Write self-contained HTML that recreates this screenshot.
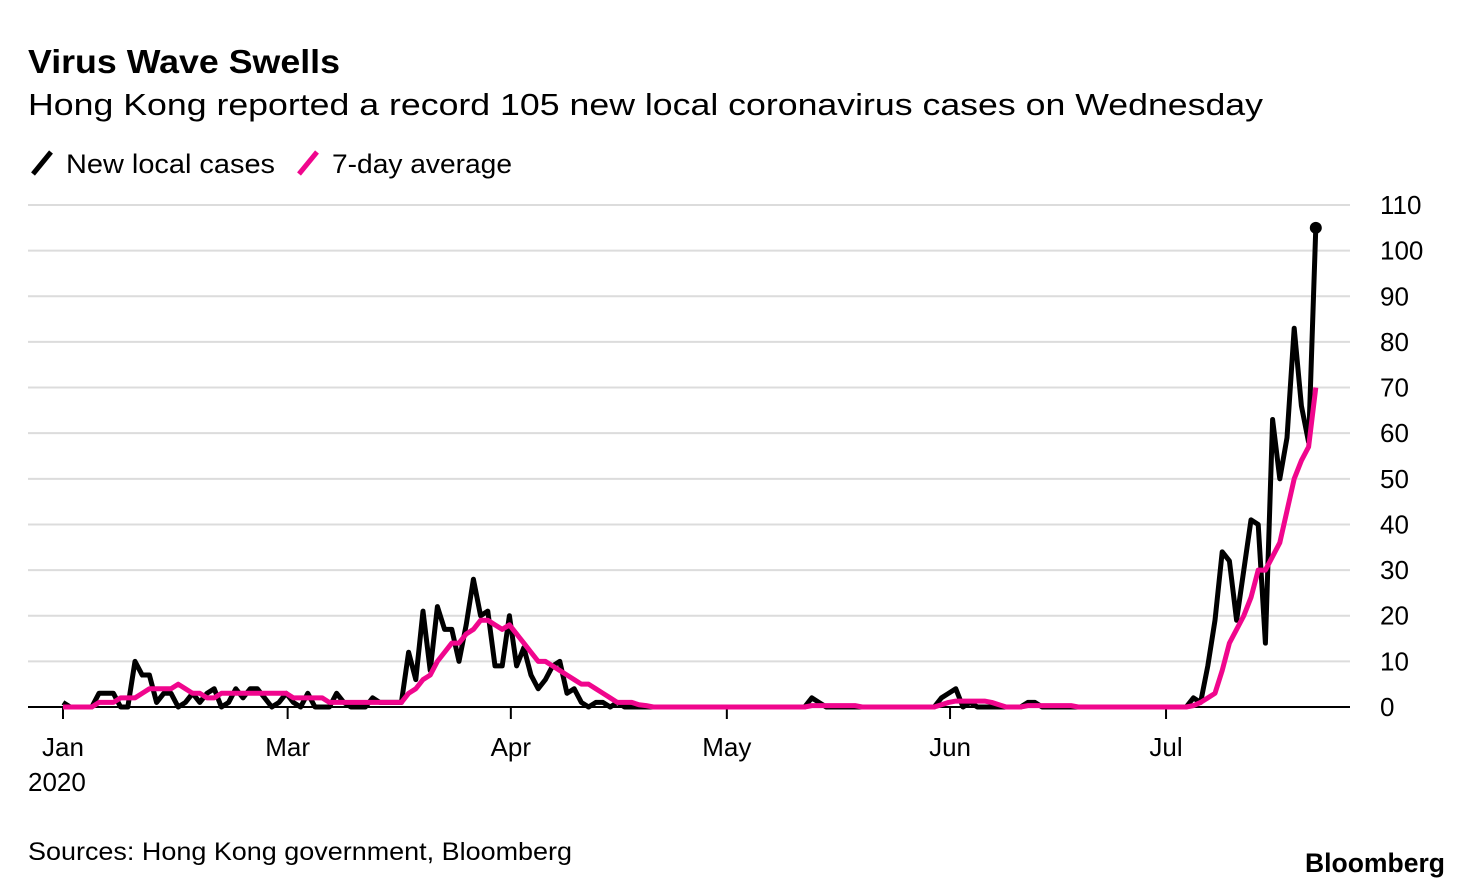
<!DOCTYPE html>
<html><head><meta charset="utf-8"><style>
body{margin:0;background:#fff;font-family:"Liberation Sans",sans-serif;}
svg{display:block}
</style></head><body>
<svg width="1473" height="890" xmlns="http://www.w3.org/2000/svg">
<text x="28" y="73" font-size="33" font-weight="bold" fill="#000" textLength="312" lengthAdjust="spacingAndGlyphs">Virus Wave Swells</text>
<text x="28" y="115" font-size="31" fill="#000" textLength="1235" lengthAdjust="spacingAndGlyphs">Hong Kong reported a record 105 new local coronavirus cases on Wednesday</text>
<g>
<line x1="33" y1="174" x2="51" y2="152" stroke="#000" stroke-width="5"/>
<text x="66" y="173" font-size="27" textLength="209" lengthAdjust="spacingAndGlyphs">New local cases</text>
<line x1="299" y1="174" x2="317" y2="152" stroke="#f0068d" stroke-width="5"/>
<text x="332" y="173" font-size="27" textLength="180" lengthAdjust="spacingAndGlyphs">7-day average</text>
</g>
<g id="grid"></g><g id="xaxis"></g><g id="series"></g>
<text x="28" y="860" font-size="25" textLength="544" lengthAdjust="spacingAndGlyphs">Sources: Hong Kong government, Bloomberg</text>
<text x="1305" y="872" font-size="27" font-weight="bold" textLength="140" lengthAdjust="spacingAndGlyphs">Bloomberg</text>
</svg>
<script>
const cases=[1,0,0,0,0,3,3,3,0,0,10,7,7,1,3,3,0,1,3,1,3,4,0,1,4,2,4,4,2,0,1,3,1,0,3,0,0,0,3,1,0,0,0,2,1,1,1,1,
12,6,21,8,22,17,17,10,18,28,20,21,9,9,20,9,13,7,4,6,9,10,3,4,1,0,1,1,0,1,0,0,
0,0,0,0,0,0,0,0,0,0,0,0,0,0,0,0,0,0,0,0,0,0,0,0,
2,1,0,0,0,0,0,0,0,0,0,0,0,0,0,0,0,0,
2,3,4,0,1,0,0,0,0,0,0,0,1,1,
0,0,0,0,0,0,0,0,0,0,0,0,0,0,0,0,0,0,0,0,0,
2,1,9,19,
34,32,19,30,41,40,14,63,50,59,83,66,58,105];
const avg=[0,0,0,0,0,1,1,1,2,2,2,3,4,4,4,4,5,4,3,3,2,2,3,3,3,3,3,3,3,3,3,3,2,2,2,2,2,1,1,1,1,1,1,1,1,1,1,1,
3,4,6,7,10,12,14,14,16,17,19,19,18,17,18,16,14,12,10,10,9,8,7,6,5,5,4,3,2,1,1,1,
0.5,0.3,0,0,0,0,0,0,0,0,0,0,0,0,0,0,0,0,0,0,0,0,0,0,
0.3,0.3,0.3,0.3,0.3,0.3,0.3,0,0,0,0,0,0,0,0,0,0,0,
0.5,1,1.3,1.3,1.3,1.3,1.3,1,0.5,0,0,0,0.3,0.3,
0.3,0.3,0.3,0.3,0.3,0,0,0,0,0,0,0,0,0,0,0,0,0,0,0,0,
0.3,1,2,3,
8,14,17,20,24,30,30,33,36,43,50,54,57,70];
const yTicks=[0,10,20,30,40,50,60,70,80,90,100,110];
const monthLabels=["Jan","Mar","Apr","May","Jun","Jul"];
const monthDays=[0,31.2,62.2,92.2,123.2,153.2];
const NS="http://www.w3.org/2000/svg";
const X=d=>63+d*7.2, Y=v=>707-v*(502/110);
const mk=(t,a,p)=>{const e=document.createElementNS(NS,t);for(const k in a)e.setAttribute(k,a[k]);p.appendChild(e);return e;};
const grid=document.getElementById('grid'),xa=document.getElementById('xaxis'),se=document.getElementById('series');
yTicks.forEach(v=>{
  if(v>0){const l=mk('line',{x1:28,x2:1350,y1:Y(v),y2:Y(v),stroke:'#dcdcdc','stroke-width':2},grid);
  
  }
  const t=mk('text',{x:1380,y:Y(v)+9,'font-size':26},grid);t.textContent=v;
  
  
});
const base=mk('line',{x1:28,x2:1350,y1:707,y2:707,stroke:'#000','stroke-width':2},xa);


monthLabels.forEach((m,i)=>{
  const x=X(monthDays[i]);
  const tk=mk('line',{x1:x,x2:x,y1:707,y2:719,stroke:'#000','stroke-width':2},xa);
  
  
  const t=mk('text',{x:x,y:756,'font-size':26,'text-anchor':'middle'},xa);t.textContent=m;
  
  
});
const yr=mk('text',{x:28,y:791,'font-size':26},xa);yr.textContent='2020';


const p1=mk('polyline',{points:cases.map((v,i)=>X(i)+','+Y(v)).join(' '),fill:'none',stroke:'#000','stroke-width':5,'stroke-linejoin':'round'},se);


const p2=mk('polyline',{points:avg.map((v,i)=>X(i)+','+Y(v)).join(' '),fill:'none',stroke:'#f0068d','stroke-width':5,'stroke-linejoin':'round'},se);


const last=cases.length-1;
const dot=mk('circle',{cx:X(last),cy:Y(cases[last]),r:6,fill:'#000'},se);


</script>
</body></html>
